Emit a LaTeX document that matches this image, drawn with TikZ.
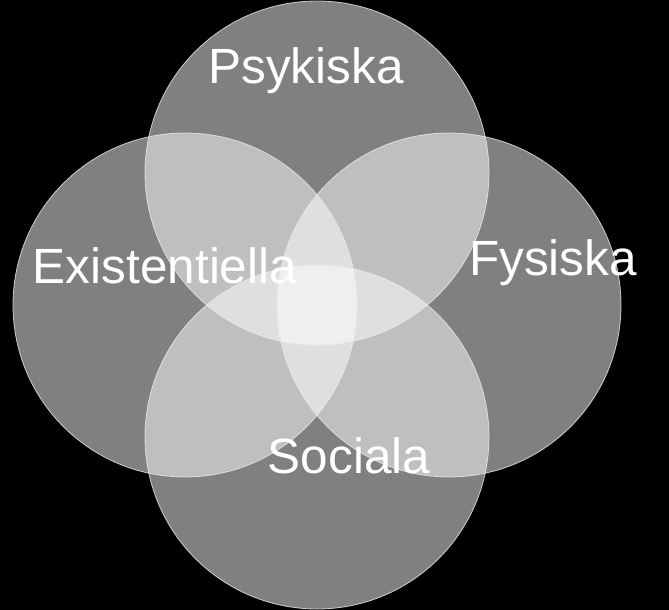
\documentclass[tikz,border=0pt]{standalone}
\usepackage{fontspec}
\setmainfont{Liberation Sans}
\usepackage{xcolor}
\usetikzlibrary{positioning}
\definecolor{ringline}{RGB}{235, 235, 235}
\tikzset{
    petal/.style={circle, minimum size=344pt, inner sep=0pt, fill=white, fill opacity=0.5},
    ring/.style={draw=ringline, draw opacity=0.8, line width=0.8pt},
    label/.style={text=white, font=\fontsize{49.5}{49.5}\selectfont, anchor=base, inner sep=0pt},
}

\begin{document}
\begin{tikzpicture}[x=1pt, y=-1pt]
                \fill[black] (0,0) rectangle (669,610);
                % the four circles
                \node[petal] (psy) at (317,173) {};
                \node[petal] (exi) at (185,305) {};
                \node[petal] (fys) at (449,305) {};
                \node[petal] (soc) at (317,437) {};
                \foreach \c in {psy,exi,fys,soc}
                    \draw[ring] (\c.center) circle[radius=172pt];
                % labels
                \node[label] (psytext) at (306,83) {Psykiska};
                \node[label] (exitext) at (165,283) {Existentiella};
                \node[label] (fystext) at (553,275) {Fysiska};
                \node[label] (soctext) at (349,473) {Sociala};
            \end{tikzpicture}
\end{document}
